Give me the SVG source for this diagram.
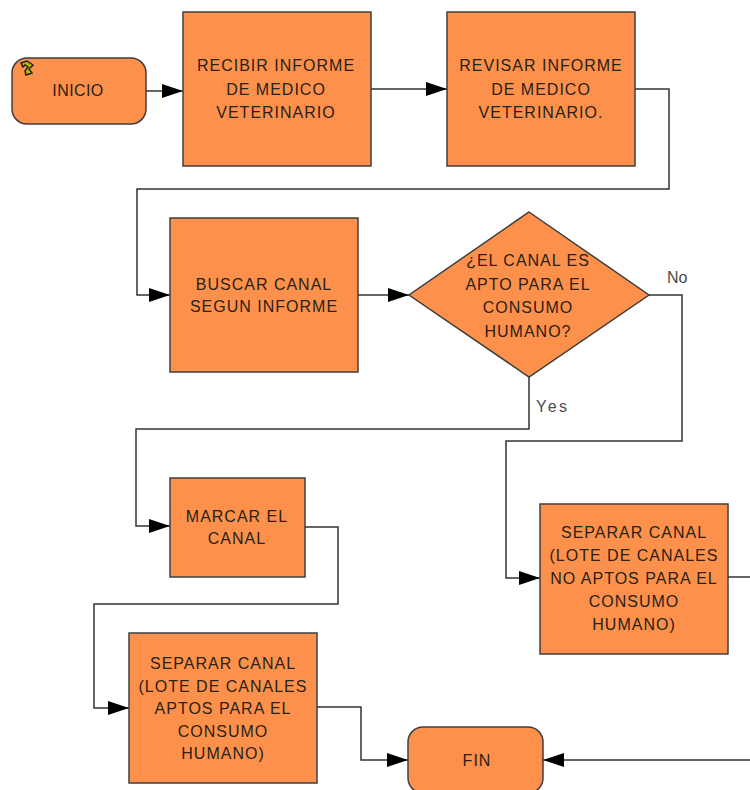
<svg xmlns="http://www.w3.org/2000/svg" width="750" height="790" viewBox="0 0 750 790">
<style>
.s{fill:#fd914c;stroke:#3f3f3f;stroke-width:1.5}
text{font-family:"Liberation Sans",Arial,sans-serif;font-size:16px;letter-spacing:1px;fill:#2a2118;text-anchor:middle}
.l{fill:#4a4a50;text-anchor:start;letter-spacing:0}
.c{fill:none;stroke:#333;stroke-width:1.5}
</style>
<defs><marker id="a" markerUnits="userSpaceOnUse" markerWidth="22" markerHeight="14" refX="21" refY="7" orient="auto"><path d="M0 0L21 7L0 14Z" fill="#000"/></marker></defs>
<rect width="750" height="790" fill="#fff"/>
<g id="connectors">
<path class="c" marker-end="url(#a)" d="M146 91H183"/>
<path class="c" marker-end="url(#a)" d="M371 89H447"/>
<path class="c" marker-end="url(#a)" d="M635 89H669V189H137V295H170"/>
<path class="c" marker-end="url(#a)" d="M358 295H409"/>
<path class="c" marker-end="url(#a)" d="M529 377V429H136V526H170"/>
<path class="c" marker-end="url(#a)" d="M649 295H682V441H506V578H540"/>
<path class="c" marker-end="url(#a)" d="M305 527H338V604H94V708H129"/>
<path class="c" marker-end="url(#a)" d="M317 707H361V760H408"/>
<path class="c" d="M728 577H750"/>
<path class="c" marker-end="url(#a)" d="M750 760H543"/>
</g>
<g id="inicio"><rect class="s" x="12" y="58" width="134" height="66" rx="15"/>
<path d="M21 63L27 61L33 65L29 69L32 73L26 75L25 71L28 67L25 65L23 67Z" fill="#b8b800" stroke="#222" stroke-width="1.5"/>
<text x="78" y="96" style="letter-spacing:.4px">INICIO</text></g>
<g id="recibir"><rect class="s" x="183" y="12" width="188" height="154"/><text x="276" y="71">RECIBIR INFORME</text><text x="276" y="95">DE MEDICO</text><text x="276" y="118">VETERINARIO</text></g>
<g id="revisar"><rect class="s" x="447" y="12" width="188" height="154"/><text x="541" y="71">REVISAR INFORME</text><text x="541" y="95">DE MEDICO</text><text x="541" y="118">VETERINARIO.</text></g>
<g id="buscar"><rect class="s" x="170" y="218" width="188" height="154"/><text x="264" y="290">BUSCAR CANAL</text><text x="264" y="312">SEGUN INFORME</text></g>
<g id="decision"><path class="s" d="M529 212L649 295L529 377L409 295Z"/><text x="528" y="266">¿EL CANAL ES</text><text x="528" y="290">APTO PARA EL</text><text x="528" y="313">CONSUMO</text><text x="528" y="337">HUMANO?</text></g>
<text class="l" x="667" y="283">No</text>
<text class="l" x="536" y="412" style="letter-spacing:2.5px">Yes</text>
<g id="marcar"><rect class="s" x="170" y="478" width="135" height="99"/><text x="237" y="522">MARCAR EL</text><text x="237" y="544">CANAL</text></g>
<g id="separar-no"><rect class="s" x="540" y="504" width="188" height="150"/><text x="634" y="538">SEPARAR CANAL</text><text x="634" y="561">(LOTE DE CANALES</text><text x="634" y="584">NO APTOS PARA EL</text><text x="634" y="607">CONSUMO</text><text x="634" y="630">HUMANO)</text></g>
<g id="separar-si"><rect class="s" x="129" y="633" width="188" height="150"/><text x="223" y="669">SEPARAR CANAL</text><text x="223" y="692">(LOTE DE CANALES</text><text x="223" y="714">APTOS PARA EL</text><text x="223" y="737">CONSUMO</text><text x="223" y="759">HUMANO)</text></g>
<g id="fin"><rect class="s" x="408" y="727" width="135" height="66" rx="15"/><text x="477" y="766">FIN</text></g>
</svg>
